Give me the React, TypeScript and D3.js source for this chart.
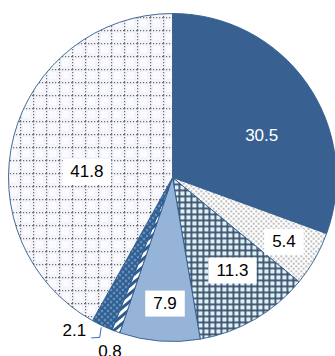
import React, { useEffect } from "react";
import * as d3 from "d3";

const categories = ["A", "B", "C", "D", "E", "F", "G"];
const values = [30.5, 5.4, 11.3, 7.9, 0.8, 2.1, 41.8];
const valueLabels = ["30.5", "5.4", "11.3", "7.9", "0.8", "2.1", "41.8"];

const W = 335;
const H = 356;
const CX = 172.5;
const CY = 177.5;
const R = 164;

const fills = [
  "#386192",
  "url(#pDots)",
  "url(#pGrid)",
  "#96b3d8",
  "url(#pStripe)",
  "url(#pBlueDots)",
  "url(#pDotGrid)",
];

// label layout: angle (deg, clockwise from 12 o'clock), distance as fraction of radius, style
const labelLayout = [
  { angle: 65, frac: 0.6, kind: "plain-white" },
  { angle: 120, frac: 0.785, kind: "box" },
  { angle: 147.2, frac: 0.675, kind: "box" },
  { angle: 183.4, frac: 0.77, kind: "box" },
  { angle: 0, frac: 0, kind: "below" },
  { angle: 0, frac: 0, kind: "leader" },
  { angle: 273.7, frac: 0.523, kind: "box" },
];

export default function App() {
  useEffect(() => {
    document.body.style.margin = "0";
  }, []);

  const pie = d3.pie<number>().sort(null).value((d) => d);
  const arcs = pie(values);
  const arc = d3.arc<d3.PieArcDatum<number>>().innerRadius(0).outerRadius(R);
  const font = "'Liberation Sans', Arial, sans-serif";
  const fs = 17;

  const polar = (a: number, d: number) => [CX + d * Math.sin(a), CY - d * Math.cos(a)];

  return (
    <svg width={W} height={H} style={{ position: "absolute", left: 0, top: 0 }}>
      <defs>
        <pattern id="pDots" width="5" height="5" patternUnits="userSpaceOnUse">
          <rect width="5" height="5" fill="#ffffff" />
          <circle cx="1.25" cy="1.25" r="0.85" fill="#7a7a7a" />
          <circle cx="3.75" cy="3.75" r="0.85" fill="#7a7a7a" />
        </pattern>
        <pattern id="pGrid" width="6" height="6" patternUnits="userSpaceOnUse">
          <rect width="6" height="6" fill="#dcf2fa" />
          <rect x="0" y="0" width="6" height="1.8" fill="#3e5068" />
          <rect x="0" y="0" width="1.8" height="6" fill="#3e5068" />
        </pattern>
        <pattern id="pStripe" width="6" height="6" patternUnits="userSpaceOnUse" patternTransform="rotate(-40)">
          <rect width="6" height="6" fill="#ffffff" />
          <rect width="6" height="3" fill="#2f5a8a" />
        </pattern>
        <pattern id="pBlueDots" width="6" height="6" patternUnits="userSpaceOnUse">
          <rect width="6" height="6" fill="#2f5d92" />
          <circle cx="1.5" cy="1.5" r="0.9" fill="#a8cdea" />
          <circle cx="4.5" cy="4.5" r="0.9" fill="#a8cdea" />
        </pattern>
        <pattern id="pDotGrid" width="13" height="13" patternUnits="userSpaceOnUse" x={CX} y={CY}>
          <rect width="13" height="13" fill="#f3f3fa" />
          <rect x="3" y="3" width="7" height="7" fill="#fbfbff" />
          <line x1="0" y1="0.6" x2="13" y2="0.6" stroke="#6f6f6f" strokeWidth="1.2" strokeDasharray="1.2 1.8" />
          <line x1="0.6" y1="0" x2="0.6" y2="13" stroke="#6f6f6f" strokeWidth="1.2" strokeDasharray="1.2 1.8" />
        </pattern>
      </defs>
      <g transform={`translate(${CX},${CY})`}>
        {arcs.map((a, i) => (
          <path key={categories[i]} d={arc(a) || ""} fill={fills[i]} stroke="#2e5b8c" strokeWidth={0.9} strokeLinejoin="round" />
        ))}
      </g>
      {arcs.map((a, i) => {
        const lay = labelLayout[i];
        const txt = valueLabels[i];
        if (lay.kind === "plain-white" || lay.kind === "box") {
          const [x, y] = polar((lay.angle * Math.PI) / 180, lay.frac * R);
          const tw = txt.length * fs * 0.52;
          return (
            <g key={"l" + i}>
              {lay.kind === "box" && (
                <rect x={x - tw / 2 - 6.5} y={y - 13} width={tw + 13} height={26} fill="#ffffff" />
              )}
              <text
                x={x}
                y={y}
                textAnchor="middle"
                dominantBaseline="central"
                fontFamily={font}
                fontSize={fs}
                fill={lay.kind === "plain-white" ? "#ffffff" : "#000000"}
              >
                {txt}
              </text>
            </g>
          );
        }
        const mid = (a.startAngle + a.endAngle) / 2;
        if (lay.kind === "below") {
          const [x, y] = polar(mid, R + 20);
          return (
            <text key={"l" + i} x={x + 1} y={y + 1} textAnchor="middle" dominantBaseline="central" fontFamily={font} fontSize={fs} fill="#000">
              {txt}
            </text>
          );
        }
        // leader
        const [sx, sy] = polar(mid, R + 2);
        const ey = sy + 10;
        const ex = sx - 10;
        return (
          <g key={"l" + i}>
            <path d={`M${sx},${sy} L${sx - 1.5},${ey} L${ex},${ey + 0.5}`} fill="none" stroke="#3a6cb4" strokeWidth={1} />
            <text x={ex - 5} y={ey - 7} textAnchor="end" dominantBaseline="central" fontFamily={font} fontSize={fs} fill="#000">
              {txt}
            </text>
          </g>
        );
      })}
    </svg>
  );
}
